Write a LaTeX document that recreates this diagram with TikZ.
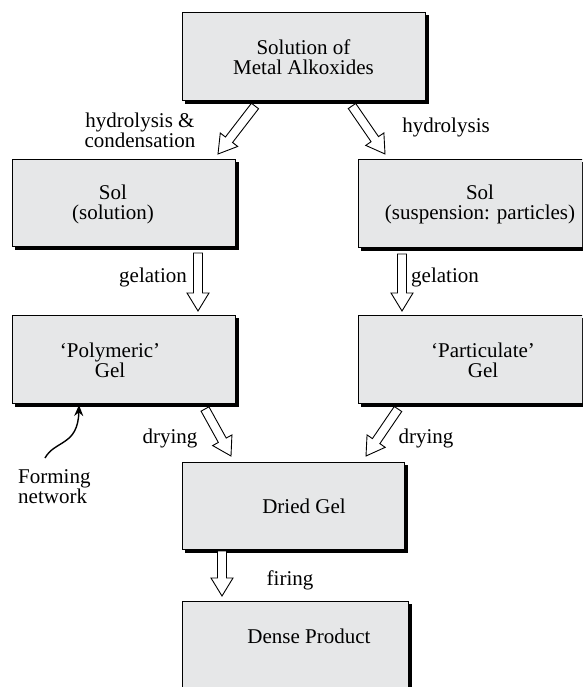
\documentclass[tikz,border=0pt]{standalone}
\usepackage{fontspec}
\setmainfont{Liberation Serif}
\usetikzlibrary{calc,arrows.meta,backgrounds}
\definecolor{boxgray}{RGB}{230,231,232}
\tikzset{
  box/.style={draw=black, line width=0.9pt, fill=boxgray, rectangle, inner sep=0pt},
  shadowfill/.style={fill=black},
  lbl/.style={font=\fontsize{21}{20}\selectfont, align=center, inner sep=0pt},
  harrow/.style={draw=black, line width=0.9pt, fill=white, line join=miter},
  curvearrow/.style={line width=1.4pt, -{Stealth[length=11pt,width=9pt]}},
}
\newcommand{\blockarrow}[2]{%
  \draw[harrow] ($(#1)!4.5pt!90:(#2)$)
    -- ($($(#2)!18pt!(#1)$)!4.5pt!90:(#2)$)
    -- ($($(#2)!18pt!(#1)$)!11pt!90:(#2)$)
    -- (#2)
    -- ($($(#2)!18pt!(#1)$)!11pt!-90:(#2)$)
    -- ($($(#2)!18pt!(#1)$)!4.5pt!-90:(#2)$)
    -- ($(#1)!4.5pt!-90:(#2)$) -- cycle;}
\begin{document}
\begin{tikzpicture}[x=1pt,y=-1pt]
\useasboundingbox (0,0) rectangle (582,687);
\clip (0,0) rectangle (582,687);

% boxes
\node[box, minimum width=243pt, minimum height=88pt] (top) at (303.5,56) {};
\node[box, minimum width=223pt, minimum height=87pt] (solL) at (123.5,202.5) {};
\node[box, minimum width=242pt, minimum height=88pt] (solR) at (479,203) {};
\node[box, minimum width=223pt, minimum height=88pt] (gelL) at (123.5,359) {};
\node[box, minimum width=242pt, minimum height=88pt] (gelR) at (479,359) {};
\node[box, minimum width=222pt, minimum height=87pt] (dried) at (293,505.5) {};
\node[box, minimum width=226pt, minimum height=100pt] (dense) at (295,651) {};

\begin{scope}[on background layer]
\foreach \n in {top,solL,solR,gelL,gelR,dried,dense}
  \fill[shadowfill] ([xshift=3.5pt,yshift=-3.5pt]\n.south west) rectangle ([xshift=3.5pt,yshift=-3.5pt]\n.north east);
\end{scope}

% box texts
\node[lbl] (topT) at (303.5,57) {Solution of\\Metal Alkoxides};
\node[lbl] (solLT) at (113,204) {Sol\\(solution)};
\node[lbl] (solRT) at (480,204) {Sol\\(suspension: particles)};
\node[lbl] (gelLT) at (110,360) {`Polymeric'\\Gel};
\node[lbl] (gelRT) at (483,360) {`Particulate'\\Gel};
\node[lbl, anchor=base] (driedT) at (304,513) {Dried Gel};
\node[lbl, anchor=base] (denseT) at (309,643) {Dense Product};

% arrow end points
\coordinate (a1s) at (255,106); \coordinate (a1e) at (218,154);
\coordinate (a2s) at (352,106); \coordinate (a2e) at (385,154);
\coordinate (a3s) at (198,253); \coordinate (a3e) at (198,311);
\coordinate (a4s) at (402,254); \coordinate (a4e) at (402,311);
\coordinate (a5s) at (205,409); \coordinate (a5e) at (231,456);
\coordinate (a6s) at (398,409); \coordinate (a6e) at (366,456);
\coordinate (a7s) at (222,551); \coordinate (a7e) at (222,596);

\blockarrow{a1s}{a1e}
\blockarrow{a2s}{a2e}
\blockarrow{a3s}{a3e}
\blockarrow{a4s}{a4e}
\blockarrow{a5s}{a5e}
\blockarrow{a6s}{a6e}
\blockarrow{a7s}{a7e}

% arrow labels
\node[lbl] (l1) at (140,130) {hydrolysis \&\\condensation};
\node[lbl, anchor=base] (l2) at (446,133) {hydrolysis};
\node[lbl, anchor=base] (l3) at (153,282) {gelation};
\node[lbl, anchor=base] (l4) at (445,282) {gelation};
\node[lbl, anchor=base] (l5) at (170,443) {drying};
\node[lbl, anchor=base] (l6) at (426,443) {drying};
\node[lbl, anchor=base] (l7) at (290,585) {firing};

% forming network
\node[lbl, align=left, anchor=west] (fn) at (18,487) {Forming\\network};
\coordinate (fs) at (45,458);
\coordinate (fe) at (79,405);
\draw[curvearrow] (fs) .. controls (55,440) and (78,446) .. (fe);
\end{tikzpicture}
\end{document}
